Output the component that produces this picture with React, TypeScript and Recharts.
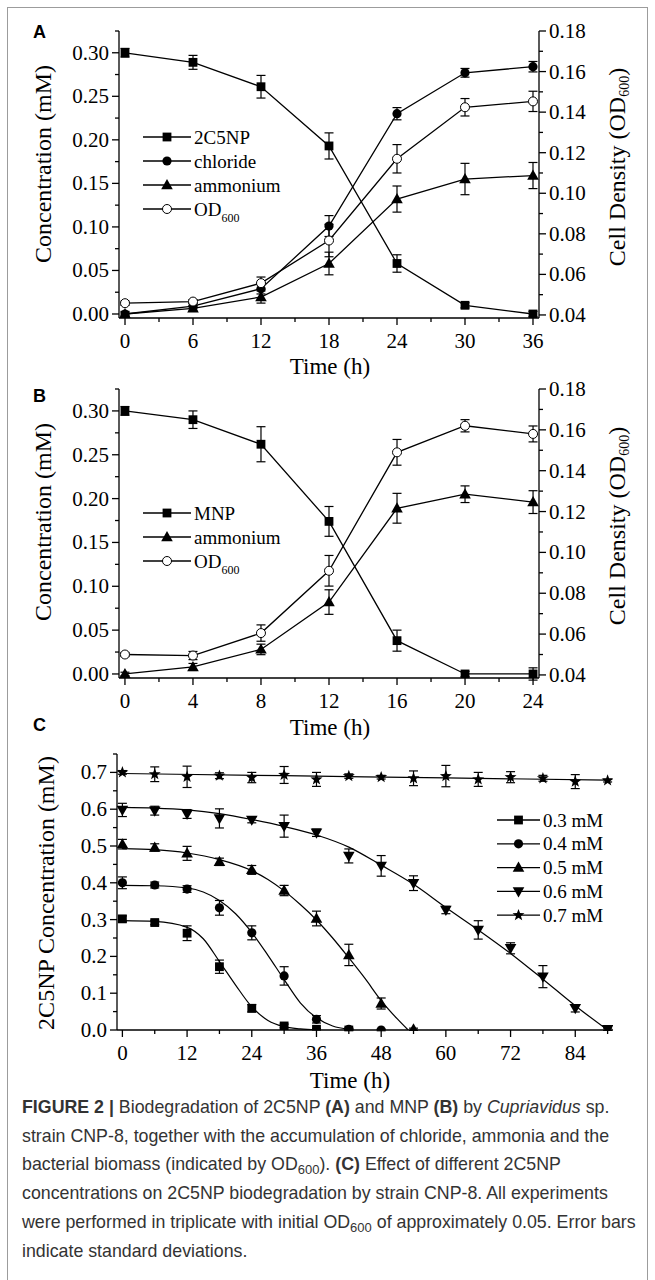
import React from 'react';
import { ComposedChart, Line, XAxis, YAxis, ErrorBar, Legend } from 'recharts';

const SERIF = '"Liberation Serif", "Times New Roman", Times, serif';
const SANS = '"Liberation Sans", Arial, Helvetica, sans-serif';
const INK = '#000';

// ---- Panel A: 2C5NP (time in h) ----
const timeA = [0, 6, 12, 18, 24, 30, 36];
const a2c5np = [0.3, 0.289, 0.261, 0.193, 0.058, 0.01, 0.0];
const a2c5npErr = [0.005, 0.008, 0.013, 0.015, 0.01, 0.003, 0.003];
const aChloride = [0.0, 0.009, 0.029, 0.101, 0.23, 0.277, 0.284];
const aChlorideErr = [0.003, 0.003, 0.006, 0.012, 0.007, 0.005, 0.006];
const aAmmonium = [0.0, 0.0065, 0.0195, 0.058, 0.132, 0.155, 0.159];
const aAmmoniumErr = [0.002, 0.003, 0.007, 0.013, 0.015, 0.018, 0.015];
const aOD = [0.0458, 0.0466, 0.0557, 0.0767, 0.117, 0.1424, 0.1453];
const aODErr = [0.001, 0.001, 0.003, 0.008, 0.007, 0.0043, 0.005];

// ---- Panel B: MNP ----
const timeB = [0, 4, 8, 12, 16, 20, 24];
const bMNP = [0.3, 0.29, 0.262, 0.174, 0.038, 0.0, 0.0];
const bMNPErr = [0.005, 0.01, 0.02, 0.017, 0.012, 0.003, 0.007];
const bAmmonium = [0.0, 0.008, 0.028, 0.082, 0.189, 0.205, 0.196];
const bAmmoniumErr = [0.002, 0.004, 0.006, 0.014, 0.017, 0.0095, 0.013];
const bOD = [0.05, 0.0495, 0.0605, 0.091, 0.149, 0.162, 0.158];
const bODErr = [0.001, 0.002, 0.004, 0.0075, 0.0063, 0.003, 0.0039];

// ---- Panel C: initial concentrations, measured points ----
const timeC = [0, 6, 12, 18, 24, 30, 36, 42, 48, 54, 60, 66, 72, 78, 84, 90];
const c03 = [0.302, 0.292, 0.263, 0.172, 0.059, 0.011, 0.002, 0.0];
const c03Err = [0.008, 0.006, 0.02, 0.018, 0.01, 0.005, 0.002, 0.002];
const c04 = [0.4, 0.394, 0.383, 0.332, 0.264, 0.147, 0.029, 0.002, 0.0];
const c04Err = [0.016, 0.008, 0.009, 0.02, 0.019, 0.025, 0.01, 0.003, 0.002];
const c05 = [0.505, 0.496, 0.48, 0.457, 0.435, 0.379, 0.303, 0.204, 0.072, 0.002];
const c05Err = [0.013, 0.01, 0.019, 0.01, 0.012, 0.014, 0.02, 0.029, 0.015, 0.003];
const c06 = [0.598, 0.596, 0.587, 0.575, 0.571, 0.554, 0.536, 0.473, 0.446, 0.399, 0.326, 0.272, 0.222, 0.145, 0.059, 0.002];
const c06Err = [0.018, 0.012, 0.012, 0.026, 0.008, 0.03, 0.01, 0.019, 0.028, 0.02, 0.01, 0.025, 0.015, 0.03, 0.01, 0.003];
const c07 = [0.7, 0.695, 0.688, 0.691, 0.686, 0.693, 0.681, 0.69, 0.687, 0.684, 0.69, 0.681, 0.687, 0.684, 0.675, 0.678];
const c07Err = [0.005, 0.02, 0.029, 0.008, 0.014, 0.023, 0.019, 0.006, 0.005, 0.02, 0.029, 0.019, 0.015, 0.008, 0.019, 0.004];

// fitted curves
const fitT03 = [0, 6, 12, 15, 18, 21, 24, 27, 30, 33, 36];
const fit03 = [0.297, 0.295, 0.279, 0.248, 0.186, 0.122, 0.063, 0.026, 0.009, 0.003, 0.0];
const fitT04 = [0, 6, 12, 15, 18, 21, 24, 27, 30, 33, 36, 39, 42];
const fit04 = [0.393, 0.392, 0.386, 0.375, 0.352, 0.316, 0.265, 0.203, 0.137, 0.074, 0.033, 0.011, 0.002];
const fitT05 = [0, 6, 12, 18, 24, 27, 30, 33, 36, 39, 42, 45, 48, 51, 53];
const fit05 = [0.493, 0.49, 0.481, 0.463, 0.433, 0.409, 0.378, 0.341, 0.299, 0.25, 0.196, 0.14, 0.08, 0.03, 0.0];
const fitT06 = [0, 6, 12, 18, 24, 30, 36, 42, 48, 54, 60, 66, 72, 78, 84, 90];
const fit06 = [0.605, 0.603, 0.598, 0.588, 0.572, 0.553, 0.53, 0.497, 0.448, 0.396, 0.333, 0.272, 0.208, 0.138, 0.066, 0.0];
const fitT07 = [0, 30, 60, 90];
const fit07 = [0.697, 0.691, 0.685, 0.679];

// ---- ticks ----
const concTicks = [0, 0.025, 0.05, 0.075, 0.1, 0.125, 0.15, 0.175, 0.2, 0.225, 0.25, 0.275, 0.3, 0.325];
const concMajor = [0, 0.05, 0.1, 0.15, 0.2, 0.25, 0.3];
const odTicks = [0.04, 0.05, 0.06, 0.07, 0.08, 0.09, 0.1, 0.11, 0.12, 0.13, 0.14, 0.15, 0.16, 0.17, 0.18];
const odMajor = [0.04, 0.06, 0.08, 0.1, 0.12, 0.14, 0.16, 0.18];
const timeATicks = [0, 3, 6, 9, 12, 15, 18, 21, 24, 27, 30, 33, 36];
const timeAMajor = [0, 6, 12, 18, 24, 30, 36];
const timeBTicks = [0, 2, 4, 6, 8, 10, 12, 14, 16, 18, 20, 22, 24];
const timeBMajor = [0, 4, 8, 12, 16, 20, 24];
const timeCTicks = [0, 6, 12, 18, 24, 30, 36, 42, 48, 54, 60, 66, 72, 78, 84, 90];
const timeCMajor = [0, 12, 24, 36, 48, 60, 72, 84];
const concCTicks = [0, 0.05, 0.1, 0.15, 0.2, 0.25, 0.3, 0.35, 0.4, 0.45, 0.5, 0.55, 0.6, 0.65, 0.7, 0.75];
const concCMajor = [0, 0.1, 0.2, 0.3, 0.4, 0.5, 0.6, 0.7];

type Kind = 'square' | 'circle' | 'triangle' | 'down' | 'open' | 'star';

const Marker = ({ kind, cx, cy }: { kind: Kind; cx: number; cy: number }) => {
  if (kind === 'square') return <rect x={cx - 4.4} y={cy - 4.4} width={8.8} height={8.8} fill={INK} />;
  if (kind === 'circle') return <circle cx={cx} cy={cy} r={4.6} fill={INK} />;
  if (kind === 'open') return <circle cx={cx} cy={cy} r={4.5} fill="#fff" stroke={INK} strokeWidth={1} />;
  if (kind === 'triangle')
    return <polygon points={`${cx},${cy - 6} ${cx + 5.8},${cy + 4.2} ${cx - 5.8},${cy + 4.2}`} fill={INK} />;
  if (kind === 'down')
    return <polygon points={`${cx},${cy + 6} ${cx + 5.8},${cy - 4.2} ${cx - 5.8},${cy - 4.2}`} fill={INK} />;
  const pts: string[] = [];
  for (let k = 0; k < 10; k++) {
    const a = -Math.PI / 2 + (k * Math.PI) / 5;
    const r = k % 2 === 0 ? 6.3 : 2.6;
    pts.push(`${cx + r * Math.cos(a)},${cy + r * Math.sin(a)}`);
  }
  return <polygon points={pts.join(' ')} fill={INK} />;
};

const dotOf = (kind: Kind) => (p: any) => {
  if (p.cx == null || p.cy == null) return <g key={`n${p.index}`} />;
  return (
    <g key={`m${p.index}`}>
      <Marker kind={kind} cx={p.cx} cy={p.cy} />
    </g>
  );
};

const serifText = { fontFamily: SERIF };

type Side = 'left' | 'right' | 'bottom';
const isMajor = (majors: number[], v: number) => majors.some((m) => Math.abs(m - v) < 1e-6);

// outward ticks, longer for majors; labels only on majors
const tickOf = (side: Side, majors: number[], digits: number) => (p: any) => {
  const v = Number(p.payload.value);
  const major = isMajor(majors, v);
  const len = major ? 7 : 4;
  const label = major ? v.toFixed(digits) : null;
  const { x, y } = p;
  if (side === 'bottom') {
    return (
      <g>
        <line x1={x} x2={x} y1={y} y2={y + len} stroke={INK} strokeWidth={1.3} />
        {label && (
          <text x={x} y={y + 30} textAnchor="middle" fontFamily={SERIF} style={serifText} fontSize={21} fill={INK}>
            {label}
          </text>
        )}
      </g>
    );
  }
  const dir = side === 'left' ? -1 : 1;
  return (
    <g>
      <line x1={x} x2={x + dir * len} y1={y} y2={y} stroke={INK} strokeWidth={1.3} />
      {label && (
        <text
          x={x + dir * 10}
          y={y + 7}
          textAnchor={side === 'left' ? 'end' : 'start'}
          fontFamily={SERIF}
          style={serifText}
          fontSize={21}
          fill={INK}
        >
          {label}
        </text>
      )}
    </g>
  );
};

type LegendItem = { label: string; sub?: string; kind: Kind };

const LegendBox = ({ items, gap, lineLen }: { items: LegendItem[]; gap: number; lineLen: number }) => (
  <svg width={160} height={items.length * gap + 12} style={{ display: 'block', overflow: 'visible' }}>
    {items.map((it, i) => {
      const y = 10 + i * gap;
      return (
        <g key={it.label + i}>
          <line x1={0} x2={lineLen} y1={y} y2={y} stroke={INK} strokeWidth={1.3} />
          <Marker kind={it.kind} cx={lineLen / 2} cy={y} />
          <text x={lineLen + 3} y={y + 6.5} style={serifText} fontSize={19} fill={INK}>
            {it.label}
            {it.sub ? (
              <tspan fontSize={12} dy={6}>
                {it.sub}
              </tspan>
            ) : null}
          </text>
        </g>
      );
    })}
  </svg>
);

const axisLine = { stroke: INK, strokeWidth: 1.3 };

type Series = { key: string; err: string; axis: 'left' | 'right'; kind: Kind };

const DualPanel = ({
  top,
  height,
  plotTop,
  plotBottom,
  data,
  xTicks,
  xMajor,
  xDomain,
  series,
  legend,
  legendTop,
}: {
  top: number;
  height: number;
  plotTop: number;
  plotBottom: number;
  data: any[];
  xTicks: number[];
  xMajor: number[];
  xDomain: [number, number];
  series: Series[];
  legend: LegendItem[];
  legendTop: number;
}) => (
  <div style={{ position: 'absolute', left: 0, top }}>
    <ComposedChart width={655} height={height} data={data} margin={{ top: plotTop - top, right: 0, bottom: 0, left: 0 }}>
      <XAxis
        dataKey="t"
        type="number"
        domain={xDomain}
        ticks={xTicks}
        interval={0}
        allowDataOverflow
        tickSize={0}
        tickMargin={0}
        tickLine={false}
        axisLine={axisLine}
        tick={tickOf('bottom', xMajor, 0)}
        height={top + height - plotBottom}
      />
      <YAxis
        yAxisId="left"
        type="number"
        domain={[-0.0046, 0.325]}
        ticks={concTicks}
        interval={0}
        allowDataOverflow
        width={119}
        tickSize={0}
        tickMargin={0}
        tickLine={false}
        axisLine={axisLine}
        tick={tickOf('left', concMajor, 2)}
      />
      <YAxis
        yAxisId="right"
        orientation="right"
        type="number"
        domain={[0.0385, 0.18]}
        ticks={odTicks}
        interval={0}
        allowDataOverflow
        width={116}
        tickSize={0}
        tickMargin={0}
        tickLine={false}
        axisLine={axisLine}
        tick={tickOf('right', odMajor, 2)}
      />
      {series.map((s) => (
        <Line
          key={s.key}
          yAxisId={s.axis}
          dataKey={s.key}
          type="linear"
          stroke={INK}
          strokeWidth={1.3}
          dot={dotOf(s.kind)}
          activeDot={false}
          isAnimationActive={false}
        >
          <ErrorBar dataKey={s.err} width={4.5} strokeWidth={1.2} stroke={INK} />
        </Line>
      ))}
      <Legend
        layout="vertical"
        align="center"
        verticalAlign="middle"
        wrapperStyle={{ left: 143, top: legendTop - 10 - top, width: 160 }}
        content={() => <LegendBox items={legend} gap={24} lineLen={48} />}
      />
    </ComposedChart>
  </div>
);

const dataA = timeA.map((t, i) => ({
  t,
  c2: a2c5np[i],
  c2e: a2c5npErr[i],
  cl: aChloride[i],
  cle: aChlorideErr[i],
  nh: aAmmonium[i],
  nhe: aAmmoniumErr[i],
  od: aOD[i],
  ode: aODErr[i],
}));

const dataB = timeB.map((t, i) => ({
  t,
  mnp: bMNP[i],
  mnpe: bMNPErr[i],
  nh: bAmmonium[i],
  nhe: bAmmoniumErr[i],
  od: bOD[i],
  ode: bODErr[i],
}));

const points = (vals: number[], errs: number[]) => vals.map((y, i) => ({ t: timeC[i], y, e: errs[i] }));
const curve = (ts: number[], vals: number[]) => ts.map((t, i) => ({ t, y: vals[i] }));

const cSeries: { label: string; kind: Kind; pts: any[]; fit: any[] }[] = [
  { label: '0.3 mM', kind: 'square', pts: points(c03, c03Err), fit: curve(fitT03, fit03) },
  { label: '0.4 mM', kind: 'circle', pts: points(c04, c04Err), fit: curve(fitT04, fit04) },
  { label: '0.5 mM', kind: 'triangle', pts: points(c05, c05Err), fit: curve(fitT05, fit05) },
  { label: '0.6 mM', kind: 'down', pts: points(c06, c06Err), fit: curve(fitT06, fit06) },
  { label: '0.7 mM', kind: 'star', pts: points(c07, c07Err), fit: curve(fitT07, fit07) },
];

const PanelC = () => (
  <div style={{ position: 'absolute', left: 0, top: 740 }}>
    <ComposedChart width={655} height={360} margin={{ top: 14, right: 42, bottom: 0, left: 0 }}>
      <XAxis
        dataKey="t"
        type="number"
        domain={[-1, 91]}
        ticks={timeCTicks}
        interval={0}
        allowDataOverflow
        tickSize={0}
        tickMargin={0}
        tickLine={false}
        axisLine={axisLine}
        tick={tickOf('bottom', timeCMajor, 0)}
        height={70}
      />
      <YAxis
        type="number"
        domain={[0, 0.75]}
        ticks={concCTicks}
        interval={0}
        allowDataOverflow
        width={117}
        tickSize={0}
        tickMargin={0}
        tickLine={false}
        axisLine={axisLine}
        tick={tickOf('left', concCMajor, 1)}
      />
      {cSeries.map((s) => (
        <Line
          key={'fit' + s.label}
          data={s.fit}
          dataKey="y"
          type="monotone"
          stroke={INK}
          strokeWidth={1.2}
          dot={false}
          activeDot={false}
          isAnimationActive={false}
        />
      ))}
      {cSeries.map((s) => (
        <Line
          key={'pts' + s.label}
          data={s.pts}
          dataKey="y"
          type="linear"
          stroke="none"
          dot={dotOf(s.kind)}
          activeDot={false}
          isAnimationActive={false}
        >
          <ErrorBar dataKey="e" width={4.5} strokeWidth={1.2} stroke={INK} />
        </Line>
      ))}
      <Legend
        layout="vertical"
        align="center"
        verticalAlign="middle"
        wrapperStyle={{ left: 497, top: 820 - 10 - 740, width: 160 }}
        content={() => (
          <LegendBox items={cSeries.map((s) => ({ label: s.label, kind: s.kind }))} gap={23.8} lineLen={43} />
        )}
      />
    </ComposedChart>
  </div>
);

const Sub = ({ children, size = 14 }: { children: React.ReactNode; size?: number }) => (
  <span style={{ fontSize: size, verticalAlign: '-0.3em', lineHeight: 0 }}>{children}</span>
);

const VTitle = ({ cx, cy, children }: { cx: number; cy: number; children: React.ReactNode }) => (
  <div
    style={{
      position: 'absolute',
      left: cx,
      top: cy,
      transform: 'translate(-50%, -50%) rotate(-90deg)',
      fontFamily: SERIF,
      fontSize: 24,
      lineHeight: 1,
      whiteSpace: 'nowrap',
      color: INK,
    }}
  >
    {children}
  </div>
);

const HTitle = ({ cx, cy, children }: { cx: number; cy: number; children: React.ReactNode }) => (
  <div
    style={{
      position: 'absolute',
      left: cx,
      top: cy,
      transform: 'translate(-50%, -50%)',
      fontFamily: SERIF,
      fontSize: 23,
      lineHeight: 1,
      whiteSpace: 'nowrap',
      color: INK,
    }}
  >
    {children}
  </div>
);

const Letter = ({ cy, children }: { cy: number; children: React.ReactNode }) => (
  <div
    style={{
      position: 'absolute',
      left: 33,
      top: cy,
      transform: 'translateY(-50%)',
      fontFamily: SANS,
      fontWeight: 'bold',
      fontSize: 18,
      lineHeight: 1,
      color: INK,
    }}
  >
    {children}
  </div>
);

const App = () => (
  <div style={{ position: 'relative', width: 655, height: 1280, background: '#fff', overflow: 'hidden' }}>
    <style>{'html,body{margin:0;padding:0;background:#fff}'}</style>
    <div
      style={{
        position: 'absolute',
        left: 7,
        top: 7,
        width: 641,
        height: 1300,
        border: '1.5px solid #9c9c9c',
        boxSizing: 'border-box',
      }}
    />

    <DualPanel
      top={0}
      height={380}
      plotTop={31}
      plotBottom={318}
      data={dataA}
      xTicks={timeATicks}
      xMajor={timeAMajor}
      xDomain={[-0.53, 36.53]}
      series={[
        { key: 'c2', err: 'c2e', axis: 'left', kind: 'square' },
        { key: 'cl', err: 'cle', axis: 'left', kind: 'circle' },
        { key: 'nh', err: 'nhe', axis: 'left', kind: 'triangle' },
        { key: 'od', err: 'ode', axis: 'right', kind: 'open' },
      ]}
      legend={[
        { label: '2C5NP', kind: 'square' },
        { label: 'chloride', kind: 'circle' },
        { label: 'ammonium', kind: 'triangle' },
        { label: 'OD', sub: '600', kind: 'open' },
      ]}
      legendTop={137}
    />
    <DualPanel
      top={370}
      height={380}
      plotTop={389}
      plotBottom={678}
      data={dataB}
      xTicks={timeBTicks}
      xMajor={timeBMajor}
      xDomain={[-0.35, 24.35]}
      series={[
        { key: 'mnp', err: 'mnpe', axis: 'left', kind: 'square' },
        { key: 'nh', err: 'nhe', axis: 'left', kind: 'triangle' },
        { key: 'od', err: 'ode', axis: 'right', kind: 'open' },
      ]}
      legend={[
        { label: 'MNP', kind: 'square' },
        { label: 'ammonium', kind: 'triangle' },
        { label: 'OD', sub: '600', kind: 'open' },
      ]}
      legendTop={513}
    />
    <PanelC />

    <Letter cy={32}>A</Letter>
    <Letter cy={396}>B</Letter>
    <Letter cy={725}>C</Letter>

    <VTitle cx={43} cy={164}>Concentration (mM)</VTitle>
    <VTitle cx={617} cy={167}>
      Cell Density (OD<Sub>600</Sub>)
    </VTitle>
    <HTitle cx={330} cy={366}>Time (h)</HTitle>

    <VTitle cx={43} cy={522}>Concentration (mM)</VTitle>
    <VTitle cx={617} cy={526}>
      Cell Density (OD<Sub>600</Sub>)
    </VTitle>
    <HTitle cx={330} cy={727}>Time (h)</HTitle>

    <VTitle cx={46} cy={893}>2C5NP Concentration (mM)</VTitle>
    <HTitle cx={350} cy={1080}>Time (h)</HTitle>

    <div
      style={{
        position: 'absolute',
        left: 22,
        top: 1093,
        fontFamily: SANS,
        fontSize: 17.8,
        lineHeight: '28.7px',
        color: '#333',
        whiteSpace: 'nowrap',
      }}
    >
      <b>FIGURE 2 |</b> Biodegradation of 2C5NP <b>(A)</b> and MNP <b>(B)</b> by <i>Cupriavidus</i> sp.
      <br />
      strain CNP-8, together with the accumulation of chloride, ammonia and the
      <br />
      bacterial biomass (indicated by OD<Sub size={13}>600</Sub>). <b>(C)</b> Effect of different 2C5NP
      <br />
      concentrations on 2C5NP biodegradation by strain CNP-8. All experiments
      <br />
      were performed in triplicate with initial OD<Sub size={13}>600</Sub> of approximately 0.05. Error bars
      <br />
      indicate standard deviations.
    </div>
  </div>
);

export default App;
